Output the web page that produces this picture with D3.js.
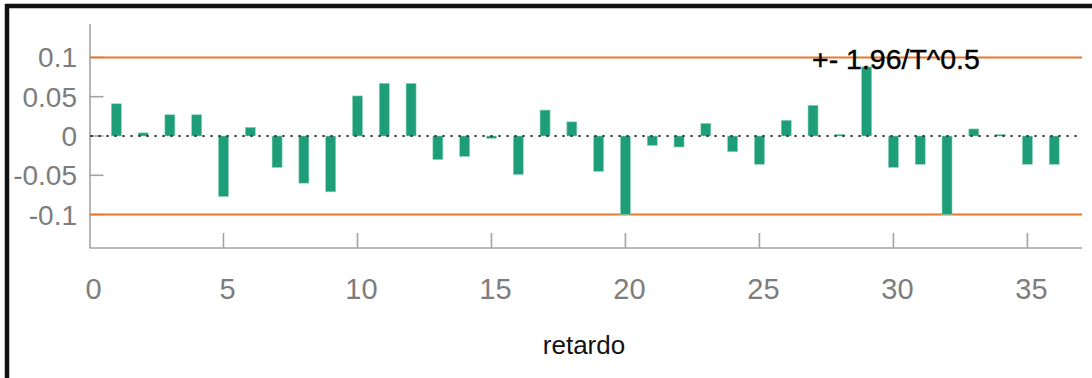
<!DOCTYPE html>
<html>
<head>
<meta charset="utf-8">
<script src="https://cdn.jsdelivr.net/npm/d3@7/dist/d3.min.js"></script>
<style>
  html, body { margin: 0; padding: 0; background: #fff; }
  svg { display: block; }
  text { font-family: "Liberation Sans", Arial, sans-serif; }
</style>
</head>
<body>
<svg id="chart" width="1092" height="378"></svg>
<script>
// Residual autocorrelation by lag
const lags = d3.range(1, 37);
const acf = [
  0.041, 0.004, 0.027, 0.027, -0.077, 0.011, -0.040, -0.060, -0.071, 0.051,
  0.067, 0.067, -0.030, -0.026, -0.003, -0.049, 0.033, 0.018, -0.045, -0.100,
  -0.012, -0.014, 0.016, -0.020, -0.036, 0.020, 0.039, 0.002, 0.088, -0.040,
  -0.036, -0.100, 0.009, 0.002, -0.036, -0.036
];
const band = 0.1;               // +- 1.96/sqrt(T)
const xTicks = [0, 5, 10, 15, 20, 25, 30, 35];
const yTicks = [0.1, 0.05, 0, -0.05, -0.1];
const yTickLabels = ["0.1", "0.05", "0", "-0.05", "-0.1"];
const bandLabel = "+- 1.96/T^0.5";
const xTitle = "retardo";

const svg = d3.select("#chart");

const x = d3.scaleLinear().domain([0, 37]).range([89.5, 1081]);
const y = d3.scaleLinear().domain([-0.1425, 0.1425]).range([248, 24]);

const axisColor = "#a3a3a3";
const labelColor = "#7d7d7d";

// frame
svg.append("path")
  .attr("d", "M7,378 V6 H1092")
  .attr("fill", "none")
  .attr("stroke", "#111")
  .attr("stroke-width", 4.5);

// axis lines
svg.append("line")
  .attr("x1", x(0) + 0.5).attr("x2", x(0) + 0.5)
  .attr("y1", y.range()[1]).attr("y2", y.range()[0])
  .attr("stroke", axisColor).attr("stroke-width", 1.6);
svg.append("line")
  .attr("x1", x(0)).attr("x2", x(37) + 1)
  .attr("y1", y.range()[0]).attr("y2", y.range()[0])
  .attr("stroke", axisColor).attr("stroke-width", 1.6);

// y ticks (inward) and labels
svg.selectAll(".ytick").data(yTicks).join("line")
  .attr("class", "ytick")
  .attr("x1", x(0)).attr("x2", x(0) + 14)
  .attr("y1", d => y(d)).attr("y2", d => y(d))
  .attr("stroke", axisColor).attr("stroke-width", 1.6);
svg.selectAll(".ylab").data(yTicks).join("text")
  .attr("class", "ylab")
  .attr("x", 77)
  .attr("y", d => y(d))
  .attr("dy", "0.36em")
  .attr("text-anchor", "end")
  .attr("font-size", 28)
  .attr("fill", labelColor)
  .text((d, i) => yTickLabels[i]);

// x ticks (inward) and labels
svg.selectAll(".xtick").data(xTicks.filter(d => d > 0)).join("line")
  .attr("class", "xtick")
  .attr("x1", d => x(d)).attr("x2", d => x(d))
  .attr("y1", y.range()[0] - 15).attr("y2", y.range()[0])
  .attr("stroke", axisColor).attr("stroke-width", 1.6);
svg.selectAll(".xlab").data(xTicks).join("text")
  .attr("class", "xlab")
  .attr("x", d => x(d) + 4)
  .attr("y", 299)
  .attr("text-anchor", "middle")
  .attr("font-size", 29)
  .attr("fill", labelColor)
  .text(d => d);

// axis title
svg.append("text")
  .attr("x", 584).attr("y", 354)
  .attr("text-anchor", "middle")
  .attr("font-size", 26)
  .attr("fill", "#111")
  .text(xTitle);

// confidence band lines
svg.selectAll(".band").data([band, -band]).join("line")
  .attr("class", "band")
  .attr("x1", x(0) + 1).attr("x2", x(37) + 1)
  .attr("y1", d => y(d)).attr("y2", d => y(d))
  .attr("stroke", "#e8782c").attr("stroke-width", 2);

// bars
const barW = 10;
svg.selectAll(".bar").data(lags).join("rect")
  .attr("class", "bar")
  .attr("x", (d) => x(d) - barW / 2)
  .attr("y", (d, i) => Math.min(y(acf[i]), y(0)))
  .attr("width", barW)
  .attr("height", (d, i) => Math.max(1.5, Math.abs(y(acf[i]) - y(0))))
  .attr("fill", "#1e9e78")
  .attr("stroke", "#8fd3b8")
  .attr("stroke-width", 0.6);

// zero line
svg.append("line")
  .attr("x1", x(0) + 1).attr("x2", x(37))
  .attr("y1", y(0)).attr("y2", y(0))
  .attr("stroke", "#222")
  .attr("stroke-width", 1.8)
  .attr("stroke-dasharray", "2,6");

// band label
svg.append("text")
  .attr("x", 812).attr("y", 69)
  .attr("font-size", 28.5)
  .attr("fill", "#000")
  .attr("stroke", "#000")
  .attr("stroke-width", 0.4)
  .text(bandLabel);
</script>
</body>
</html>
